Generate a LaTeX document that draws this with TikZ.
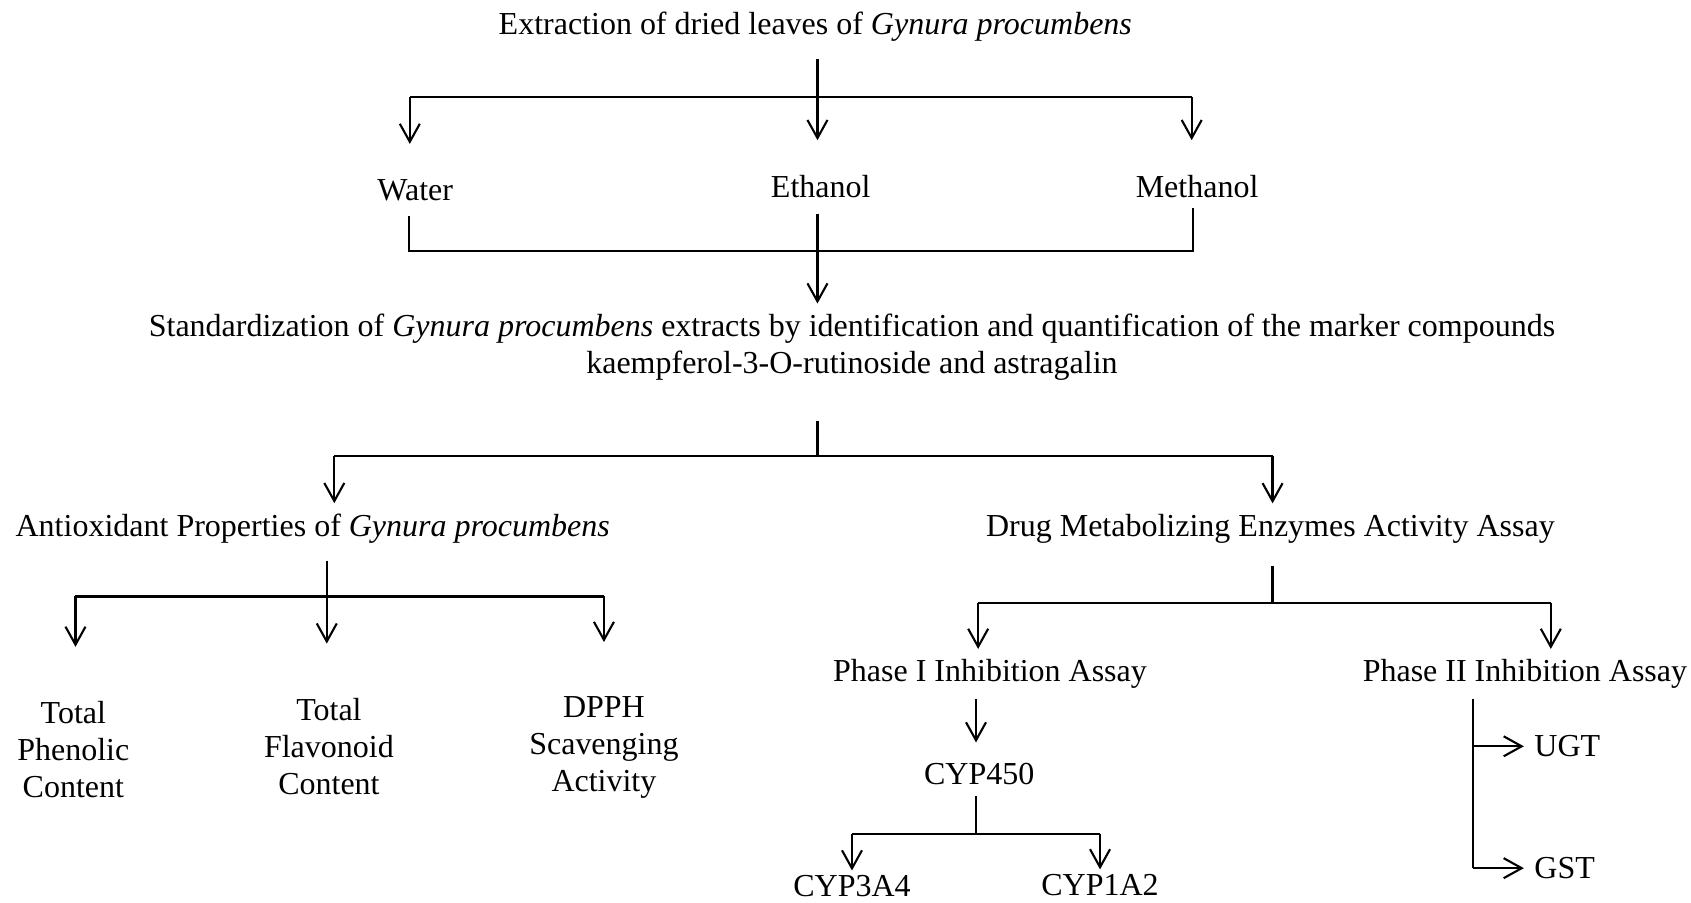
\documentclass[tikz,border=0pt]{standalone}
\usepackage{fontspec}
\setmainfont{Liberation Serif}
\usetikzlibrary{arrows.meta}

\tikzset{
  txt/.style={inner sep=0pt, outer sep=6pt, align=center, font=\fontsize{18.2}{21}\selectfont},
  ln/.style={line width=1.3pt},
  arr/.style={ln, -{Straight Barb[length=3.6mm, width=4mm, line width=1.2pt]}}
}

\begin{document}
\begin{tikzpicture}[x=0.021568cm, y=-0.021568cm]
    \useasboundingbox (0,0) rectangle (1568,837);

    % Extraction
    \node[txt] (title) at (756,25) {Extraction of dried leaves of \textit{Gynura procumbens}};

    % Solvents
    \node[txt] (water) at (385,176) {Water};
    \node[txt] (ethanol) at (761,173) {Ethanol};
    \node[txt] (methanol) at (1110,173) {Methanol};

    % Standardization
    \node[txt] (std) at (790,322) {Standardization of \textit{Gynura procumbens} extracts by identification and quantification of the marker compounds\\kaempferol-3-O-rutinoside and astragalin};

    % Two branches
    \node[txt] (antiox) at (290,490) {Antioxidant Properties of \textit{Gynura procumbens}};
    \node[txt] (drug) at (1178,490) {Drug Metabolizing Enzymes Activity Assay};

    % Antioxidant assays
    \node[txt] (tpc) at (68,695) {Total\\Phenolic\\Content};
    \node[txt] (tfc) at (305,692) {Total\\Flavonoid\\Content};
    \node[txt] (dpph) at (560,693) {DPPH\\Scavenging\\Activity};

    % Enzyme assays
    \node[txt] (ph1) at (918,625) {Phase I Inhibition Assay};
    \node[txt] (ph2) at (1414,625) {Phase II Inhibition Assay};
    \node[txt] (cyp) at (908,718) {CYP450};
    \node[txt] (cyp3a4) at (790,822) {CYP3A4};
    \node[txt] (cyp1a2) at (1020,821) {CYP1A2};
    \node[txt, anchor=west] (ugt) at (1413,692) {UGT};
    \node[txt, anchor=west] (gst) at (1413,805) {GST};

    % Junctions
    \coordinate (j1) at (758,90);
    \coordinate (j1l) at (380,90);
    \coordinate (j1r) at (1105,90);
    \coordinate (j2) at (758,233);
    \coordinate (j2l) at (379,233);
    \coordinate (j2r) at (1106,233);
    \coordinate (j3) at (758,423);
    \coordinate (j3l) at (310,423);
    \coordinate (j3r) at (1180,423);
    \coordinate (j4) at (303,553);
    \coordinate (j4l) at (70,553);
    \coordinate (j4r) at (560,553);
    \coordinate (j5) at (1180,559);
    \coordinate (j5l) at (907,559);
    \coordinate (j5r) at (1438,559);
    \coordinate (j6) at (905,773);
    \coordinate (j6l) at (790,773);
    \coordinate (j6r) at (1020,773);
    \coordinate (j7) at (1366,692);
    \coordinate (j8) at (1366,805);

    % Extraction -> solvents
    \draw[ln, shorten <=4pt] (j1 |- title.south) -- (j1);
    \draw[ln] (j1l) -- (j1r);
    \draw[arr, shorten >=14pt] (j1l) -- (j1l |- water.north);
    \draw[arr, shorten >=14pt] (j1) -- (j1 |- ethanol.north);
    \draw[arr, shorten >=14pt] (j1r) -- (j1r |- methanol.north);

    % Solvents -> standardization
    \draw[ln, shorten <=3pt] (j2l |- water.south) -- (j2l) -- (j2r) -- (j2r |- methanol.south);
    \draw[ln, shorten <=3pt] (j2 |- ethanol.south) -- (j2);
    \draw[arr] (j2) -- (j2 |- std.north);

    % Standardization -> branches
    \draw[ln, shorten <=17pt] (j3 |- std.south) -- (j3);
    \draw[ln] (j3l) -- (j3r);
    \draw[arr] (j3l) -- (j3l |- antiox.north);
    \draw[arr] (j3r) -- (j3r |- drug.north);

    % Antioxidant -> assays
    \draw[ln, shorten <=4pt] (j4 |- antiox.south) -- (j4);
    \draw[ln] (j4l) -- (j4r);
    \draw[arr, shorten >=25pt] (j4l) -- (j4l |- tpc.north);
    \draw[arr, shorten >=25pt] (j4) -- (j4 |- tfc.north);
    \draw[arr, shorten >=25pt] (j4r) -- (j4r |- dpph.north);

    % Enzymes -> phases
    \draw[ln, shorten <=7pt] (j5 |- drug.south) -- (j5);
    \draw[ln] (j5l) -- (j5r);
    \draw[arr] (j5l) -- (j5l |- ph1.north);
    \draw[arr] (j5r) -- (j5r |- ph2.north);

    % Phase I
    \draw[arr, shorten >=6pt] (j6 |- ph1.south) -- (j6 |- cyp.north);
    \draw[ln] (j6 |- cyp.south) -- (j6);
    \draw[ln] (j6l) -- (j6r);
    \draw[arr, shorten >=-3pt] (j6l) -- (j6l |- cyp3a4.north);
    \draw[arr, shorten >=-3pt] (j6r) -- (j6r |- cyp1a2.north);

    % Phase II
    \draw[ln] (j7 |- ph2.south) -- (j8);
    \draw[arr] (j7) -- (ugt);
    \draw[arr] (j8) -- (gst);
\end{tikzpicture}
\end{document}
